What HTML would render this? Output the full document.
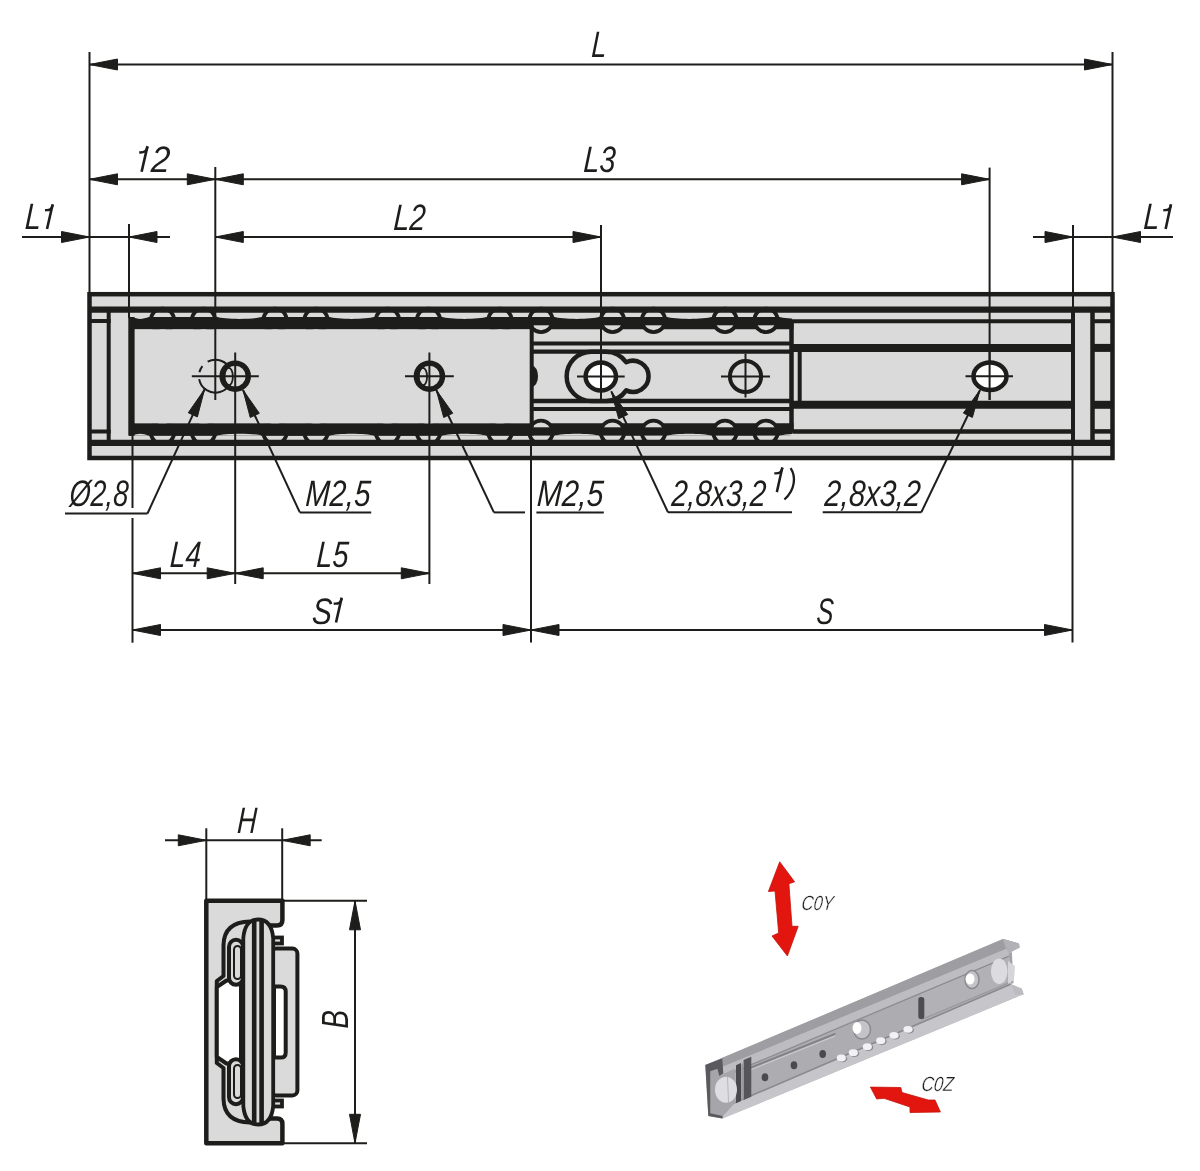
<!DOCTYPE html>
<html><head><meta charset="utf-8"><style>
html,body{margin:0;padding:0;background:#fff;overflow:hidden;}
svg{display:block;will-change:transform;}
text{font-family:"Liberation Sans",sans-serif;font-style:italic;fill:#1d1d1b;}
</style></head><body>
<svg width="1200" height="1171" viewBox="0 0 1200 1171">
<rect width="1200" height="1171" fill="#fff"/>
<line x1="89.5" y1="64.5" x2="1112.5" y2="64.5" stroke="#1d1d1b" stroke-width="2" stroke-linecap="butt"/>
<polygon points="89.50,64.50 117.50,59.00 117.50,70.00" fill="#1d1d1b" stroke="#1d1d1b" stroke-width="1" stroke-linejoin="round"/>
<polygon points="1112.50,64.50 1084.50,70.00 1084.50,59.00" fill="#1d1d1b" stroke="#1d1d1b" stroke-width="1" stroke-linejoin="round"/>
<line x1="89.5" y1="52" x2="89.5" y2="294" stroke="#1d1d1b" stroke-width="2" stroke-linecap="butt"/>
<line x1="1112.5" y1="52" x2="1112.5" y2="294" stroke="#1d1d1b" stroke-width="2" stroke-linecap="butt"/>
<text x="0" y="0" transform="translate(591,57) skewX(-3.2)" font-size="36.8" text-anchor="start" textLength="15" lengthAdjust="spacingAndGlyphs">L</text>
<line x1="89.5" y1="179.3" x2="989.6" y2="179.3" stroke="#1d1d1b" stroke-width="2" stroke-linecap="butt"/>
<polygon points="89.50,179.30 117.50,173.80 117.50,184.80" fill="#1d1d1b" stroke="#1d1d1b" stroke-width="1" stroke-linejoin="round"/>
<polygon points="215.30,179.30 187.30,184.80 187.30,173.80" fill="#1d1d1b" stroke="#1d1d1b" stroke-width="1" stroke-linejoin="round"/>
<polygon points="215.30,179.30 243.30,173.80 243.30,184.80" fill="#1d1d1b" stroke="#1d1d1b" stroke-width="1" stroke-linejoin="round"/>
<polygon points="989.60,179.30 961.60,184.80 961.60,173.80" fill="#1d1d1b" stroke="#1d1d1b" stroke-width="1" stroke-linejoin="round"/>
<line x1="215.3" y1="167" x2="215.3" y2="400" stroke="#1d1d1b" stroke-width="2" stroke-linecap="butt"/>
<line x1="989.6" y1="167.6" x2="989.6" y2="400" stroke="#1d1d1b" stroke-width="2" stroke-linecap="butt"/>
<text x="0" y="0" transform="translate(150.5,172) skewX(-3.2)" font-size="36.8" text-anchor="start" textLength="19" lengthAdjust="spacingAndGlyphs">2</text>
<path d="M147.2,147.4 L141.9,170.5" stroke="#1d1d1b" stroke-width="2.6" stroke-linecap="square" fill="none"/>
<path d="M139.2,152.5 C142.7,152.2 146.27599999999998,152.74800000000002 147.5,146.9" stroke="#1d1d1b" stroke-width="2.4699999999999998" fill="none"/>
<text x="0" y="0" transform="translate(583,172) skewX(-3.2)" font-size="36.8" text-anchor="start" textLength="32" lengthAdjust="spacingAndGlyphs">L3</text>
<line x1="22" y1="237" x2="170" y2="237" stroke="#1d1d1b" stroke-width="2" stroke-linecap="butt"/>
<polygon points="89.50,237.00 61.50,242.50 61.50,231.50" fill="#1d1d1b" stroke="#1d1d1b" stroke-width="1" stroke-linejoin="round"/>
<polygon points="129.00,237.00 157.00,231.50 157.00,242.50" fill="#1d1d1b" stroke="#1d1d1b" stroke-width="1" stroke-linejoin="round"/>
<line x1="129" y1="224" x2="129" y2="320" stroke="#1d1d1b" stroke-width="2" stroke-linecap="butt"/>
<text x="0" y="0" transform="translate(24.5,229) skewX(-3.2)" font-size="36.8" text-anchor="start" textLength="16" lengthAdjust="spacingAndGlyphs">L</text>
<path d="M52.4,205.5 L47.3,227.8" stroke="#1d1d1b" stroke-width="2.6" stroke-linecap="square" fill="none"/>
<path d="M45,210.2 C48.5,209.89999999999998 51.492,210.784 52.699999999999996,205.0" stroke="#1d1d1b" stroke-width="2.4699999999999998" fill="none"/>
<line x1="215.3" y1="237" x2="601" y2="237" stroke="#1d1d1b" stroke-width="2" stroke-linecap="butt"/>
<polygon points="215.30,237.00 243.30,231.50 243.30,242.50" fill="#1d1d1b" stroke="#1d1d1b" stroke-width="1" stroke-linejoin="round"/>
<polygon points="601.00,237.00 573.00,242.50 573.00,231.50" fill="#1d1d1b" stroke="#1d1d1b" stroke-width="1" stroke-linejoin="round"/>
<line x1="601" y1="225" x2="601" y2="400" stroke="#1d1d1b" stroke-width="2" stroke-linecap="butt"/>
<text x="0" y="0" transform="translate(393,230) skewX(-3.2)" font-size="36.8" text-anchor="start" textLength="32" lengthAdjust="spacingAndGlyphs">L2</text>
<line x1="1033" y1="237" x2="1173" y2="237" stroke="#1d1d1b" stroke-width="2" stroke-linecap="butt"/>
<polygon points="1073.00,237.00 1045.00,242.50 1045.00,231.50" fill="#1d1d1b" stroke="#1d1d1b" stroke-width="1" stroke-linejoin="round"/>
<polygon points="1112.50,237.00 1140.50,231.50 1140.50,242.50" fill="#1d1d1b" stroke="#1d1d1b" stroke-width="1" stroke-linejoin="round"/>
<line x1="1073" y1="225" x2="1073" y2="460" stroke="#1d1d1b" stroke-width="2" stroke-linecap="butt"/>
<text x="0" y="0" transform="translate(1143,229) skewX(-3.2)" font-size="36.8" text-anchor="start" textLength="16" lengthAdjust="spacingAndGlyphs">L</text>
<path d="M1170.7,205.5 L1165.9,227.8" stroke="#1d1d1b" stroke-width="2.6" stroke-linecap="square" fill="none"/>
<path d="M1163.3,210.2 C1166.8,209.89999999999998 1169.816,210.784 1171.0,205.0" stroke="#1d1d1b" stroke-width="2.4699999999999998" fill="none"/>
<rect x="89.5" y="294.2" width="1023" height="163.8" fill="#dadada"/>
<path d="M129,317 H788 Q793.5,317 793.5,322.5 V329.3 H129 Z" fill="#1d1d1b"/>
<path d="M129,435.6 H788 Q793.5,435.6 793.5,430.1 V423.3 H129 Z" fill="#1d1d1b"/>
<circle cx="162.5" cy="320.3" r="11.75" fill="#dadada" stroke="#1d1d1b" stroke-width="3.8"/>
<circle cx="162.5" cy="432.3" r="11.75" fill="#dadada" stroke="#1d1d1b" stroke-width="3.8"/>
<circle cx="203.5" cy="320.3" r="11.75" fill="#dadada" stroke="#1d1d1b" stroke-width="3.8"/>
<circle cx="203.5" cy="432.3" r="11.75" fill="#dadada" stroke="#1d1d1b" stroke-width="3.8"/>
<circle cx="275.0" cy="320.3" r="11.75" fill="#dadada" stroke="#1d1d1b" stroke-width="3.8"/>
<circle cx="275.0" cy="432.3" r="11.75" fill="#dadada" stroke="#1d1d1b" stroke-width="3.8"/>
<circle cx="316.0" cy="320.3" r="11.75" fill="#dadada" stroke="#1d1d1b" stroke-width="3.8"/>
<circle cx="316.0" cy="432.3" r="11.75" fill="#dadada" stroke="#1d1d1b" stroke-width="3.8"/>
<circle cx="387.5" cy="320.3" r="11.75" fill="#dadada" stroke="#1d1d1b" stroke-width="3.8"/>
<circle cx="387.5" cy="432.3" r="11.75" fill="#dadada" stroke="#1d1d1b" stroke-width="3.8"/>
<circle cx="428.5" cy="320.3" r="11.75" fill="#dadada" stroke="#1d1d1b" stroke-width="3.8"/>
<circle cx="428.5" cy="432.3" r="11.75" fill="#dadada" stroke="#1d1d1b" stroke-width="3.8"/>
<circle cx="500.0" cy="320.3" r="11.75" fill="#dadada" stroke="#1d1d1b" stroke-width="3.8"/>
<circle cx="500.0" cy="432.3" r="11.75" fill="#dadada" stroke="#1d1d1b" stroke-width="3.8"/>
<circle cx="541.0" cy="320.3" r="11.75" fill="#dadada" stroke="#1d1d1b" stroke-width="3.8"/>
<circle cx="541.0" cy="432.3" r="11.75" fill="#dadada" stroke="#1d1d1b" stroke-width="3.8"/>
<circle cx="612.5" cy="320.3" r="11.75" fill="#dadada" stroke="#1d1d1b" stroke-width="3.8"/>
<circle cx="612.5" cy="432.3" r="11.75" fill="#dadada" stroke="#1d1d1b" stroke-width="3.8"/>
<circle cx="653.5" cy="320.3" r="11.75" fill="#dadada" stroke="#1d1d1b" stroke-width="3.8"/>
<circle cx="653.5" cy="432.3" r="11.75" fill="#dadada" stroke="#1d1d1b" stroke-width="3.8"/>
<circle cx="725.0" cy="320.3" r="11.75" fill="#dadada" stroke="#1d1d1b" stroke-width="3.8"/>
<circle cx="725.0" cy="432.3" r="11.75" fill="#dadada" stroke="#1d1d1b" stroke-width="3.8"/>
<circle cx="766.0" cy="320.3" r="11.75" fill="#dadada" stroke="#1d1d1b" stroke-width="3.8"/>
<circle cx="766.0" cy="432.3" r="11.75" fill="#dadada" stroke="#1d1d1b" stroke-width="3.8"/>
<rect x="129" y="317" width="662" height="8.3" fill="#1d1d1b"/>
<rect x="129" y="427.3" width="662" height="8.3" fill="#1d1d1b"/>
<rect x="129" y="317" width="402" height="12.3" fill="#1d1d1b"/>
<rect x="129" y="423.3" width="402" height="12.3" fill="#1d1d1b"/>
<rect x="134.6" y="329.3" width="395.1" height="94" fill="#dadada"/>
<path d="M131,316.8 C139,319.6 141.5,319.6 149.5,316.8 Z" fill="#dadada"/>
<path d="M131,435.8 C139,433 141.5,433 149.5,435.8 Z" fill="#dadada"/>
<path d="M216.5,316.8 C224.5,319.6 254.0,319.6 262.0,316.8 Z" fill="#dadada"/>
<path d="M216.5,435.8 C224.5,433 254.0,433 262.0,435.8 Z" fill="#dadada"/>
<path d="M329.0,316.8 C337.0,319.6 366.5,319.6 374.5,316.8 Z" fill="#dadada"/>
<path d="M329.0,435.8 C337.0,433 366.5,433 374.5,435.8 Z" fill="#dadada"/>
<path d="M441.5,316.8 C449.5,319.6 479.0,319.6 487.0,316.8 Z" fill="#dadada"/>
<path d="M441.5,435.8 C449.5,433 479.0,433 487.0,435.8 Z" fill="#dadada"/>
<path d="M554.0,316.8 C562.0,319.6 591.5,319.6 599.5,316.8 Z" fill="#dadada"/>
<path d="M554.0,435.8 C562.0,433 591.5,433 599.5,435.8 Z" fill="#dadada"/>
<path d="M666.5,316.8 C674.5,319.6 704.0,319.6 712.0,316.8 Z" fill="#dadada"/>
<path d="M666.5,435.8 C674.5,433 704.0,433 712.0,435.8 Z" fill="#dadada"/>
<path d="M779.0,316.8 C787.0,319.6 816.5,319.6 824.5,316.8 Z" fill="#dadada"/>
<path d="M779.0,435.8 C787.0,433 816.5,433 824.5,435.8 Z" fill="#dadada"/>
<rect x="89.5" y="294.2" width="1023" height="163.8" fill="none" stroke="#1d1d1b" stroke-width="4.5"/>
<line x1="89.5" y1="309.6" x2="1112.5" y2="309.6" stroke="#1d1d1b" stroke-width="6.2" stroke-linecap="butt"/>
<line x1="89.5" y1="442.8" x2="1112.5" y2="442.8" stroke="#1d1d1b" stroke-width="6.2" stroke-linecap="butt"/>
<line x1="108.7" y1="309.8" x2="108.7" y2="442.6" stroke="#1d1d1b" stroke-width="4" stroke-linecap="butt"/>
<line x1="89.5" y1="321" x2="110.7" y2="321" stroke="#1d1d1b" stroke-width="4" stroke-linecap="butt"/>
<line x1="89.5" y1="431.5" x2="110.7" y2="431.5" stroke="#1d1d1b" stroke-width="4" stroke-linecap="butt"/>
<line x1="129" y1="294" x2="129" y2="318" stroke="#1d1d1b" stroke-width="2" stroke-linecap="butt"/>
<rect x="128.3" y="317" width="6.3" height="118.6" fill="#1d1d1b"/>
<line x1="531.7" y1="317" x2="531.7" y2="435.6" stroke="#1d1d1b" stroke-width="4" stroke-linecap="butt"/>
<path d="M531,365 Q538,367 538,376.3 Q538,385.6 531,387.6 Z" fill="#1d1d1b"/>
<line x1="531.7" y1="343.6" x2="791.5" y2="343.6" stroke="#1d1d1b" stroke-width="4" stroke-linecap="butt"/>
<line x1="531.7" y1="351.6" x2="791.5" y2="351.6" stroke="#1d1d1b" stroke-width="4.4" stroke-linecap="butt"/>
<line x1="531.7" y1="401.0" x2="791.5" y2="401.0" stroke="#1d1d1b" stroke-width="4.4" stroke-linecap="butt"/>
<line x1="531.7" y1="409.0" x2="791.5" y2="409.0" stroke="#1d1d1b" stroke-width="4" stroke-linecap="butt"/>
<line x1="791.5" y1="322" x2="791.5" y2="430.6" stroke="#1d1d1b" stroke-width="4.5" stroke-linecap="butt"/>
<line x1="793" y1="321.2" x2="1073" y2="321.2" stroke="#1d1d1b" stroke-width="4" stroke-linecap="butt"/>
<line x1="793" y1="431.4" x2="1073" y2="431.4" stroke="#1d1d1b" stroke-width="4.5" stroke-linecap="butt"/>
<line x1="793" y1="347.9" x2="1073" y2="347.9" stroke="#1d1d1b" stroke-width="8" stroke-linecap="butt"/>
<line x1="793" y1="404.8" x2="1073" y2="404.8" stroke="#1d1d1b" stroke-width="8" stroke-linecap="butt"/>
<line x1="799.7" y1="350" x2="799.7" y2="403" stroke="#1d1d1b" stroke-width="4" stroke-linecap="butt"/>
<line x1="1092.5" y1="321.2" x2="1112.5" y2="321.2" stroke="#1d1d1b" stroke-width="4" stroke-linecap="butt"/>
<line x1="1092.5" y1="431.4" x2="1112.5" y2="431.4" stroke="#1d1d1b" stroke-width="4.5" stroke-linecap="butt"/>
<line x1="1092.5" y1="347.9" x2="1112.5" y2="347.9" stroke="#1d1d1b" stroke-width="8" stroke-linecap="butt"/>
<line x1="1092.5" y1="404.8" x2="1112.5" y2="404.8" stroke="#1d1d1b" stroke-width="8" stroke-linecap="butt"/>
<line x1="1073" y1="309.8" x2="1073" y2="442.6" stroke="#1d1d1b" stroke-width="4" stroke-linecap="butt"/>
<line x1="1092.5" y1="309.8" x2="1092.5" y2="442.6" stroke="#1d1d1b" stroke-width="4.5" stroke-linecap="butt"/>
<line x1="215.3" y1="294" x2="215.3" y2="400" stroke="#1d1d1b" stroke-width="2" stroke-linecap="butt"/>
<line x1="601" y1="294" x2="601" y2="400" stroke="#1d1d1b" stroke-width="2" stroke-linecap="butt"/>
<line x1="989.6" y1="294" x2="989.6" y2="400" stroke="#1d1d1b" stroke-width="2" stroke-linecap="butt"/>
<line x1="129" y1="294" x2="129" y2="318" stroke="#1d1d1b" stroke-width="2" stroke-linecap="butt"/>
<line x1="1073" y1="294" x2="1073" y2="312" stroke="#1d1d1b" stroke-width="2" stroke-linecap="butt"/>
<path d="M207.65,361.63 A16.5,16.5 0 1 1 199.15,379.07 M199.39,372.21 A16.5,16.5 0 0 1 202.40,366.04" fill="none" stroke="#1d1d1b" stroke-width="2"/>
<circle cx="235.2" cy="376.2" r="13.1" fill="#dadada" stroke="#1d1d1b" stroke-width="5.4"/>
<ellipse cx="228.7" cy="376.6" rx="4.2" ry="8.8" fill="none" stroke="#1d1d1b" stroke-width="1.8"/>
<circle cx="429.4" cy="376.2" r="13.1" fill="#dadada" stroke="#1d1d1b" stroke-width="5.4"/>
<ellipse cx="422.9" cy="376.6" rx="4.2" ry="8.8" fill="none" stroke="#1d1d1b" stroke-width="1.8"/>
<line x1="191.8" y1="376.2" x2="258.8" y2="376.2" stroke="#1d1d1b" stroke-width="2" stroke-linecap="butt"/>
<line x1="235.2" y1="352.5" x2="235.2" y2="584" stroke="#1d1d1b" stroke-width="2" stroke-linecap="butt"/>
<line x1="405" y1="376.2" x2="453.8" y2="376.2" stroke="#1d1d1b" stroke-width="2" stroke-linecap="butt"/>
<line x1="429.4" y1="352.5" x2="429.4" y2="584" stroke="#1d1d1b" stroke-width="2" stroke-linecap="butt"/>
<path d="M591.3,351.7 H606 A24.65,24.65 0 0 1 626.2,362.3 A15.6,15.6 0 1 1 626.2,390.4 A24.65,24.65 0 0 1 606,401 H591.3 A24.65,24.65 0 0 1 591.3,351.7 Z" fill="#dadada" stroke="#1d1d1b" stroke-width="4.5" stroke-linejoin="round"/>
<ellipse cx="600.8" cy="376.5" rx="15.2" ry="14" fill="#fff" stroke="#1d1d1b" stroke-width="4.5"/>
<line x1="577" y1="376.5" x2="624.7" y2="376.5" stroke="#1d1d1b" stroke-width="2" stroke-linecap="butt"/>
<line x1="601" y1="344" x2="601" y2="400" stroke="#1d1d1b" stroke-width="2" stroke-linecap="butt"/>
<circle cx="745.5" cy="376.5" r="15.6" fill="#dadada" stroke="#1d1d1b" stroke-width="4"/>
<line x1="721" y1="376.5" x2="770" y2="376.5" stroke="#1d1d1b" stroke-width="2" stroke-linecap="butt"/>
<line x1="745.5" y1="353.7" x2="745.5" y2="397.5" stroke="#1d1d1b" stroke-width="2" stroke-linecap="butt"/>
<ellipse cx="990" cy="376.3" rx="16.5" ry="13.8" fill="#fff" stroke="#1d1d1b" stroke-width="4.5"/>
<line x1="965.5" y1="376.3" x2="1013" y2="376.3" stroke="#1d1d1b" stroke-width="2" stroke-linecap="butt"/>
<line x1="989.6" y1="344" x2="989.6" y2="400" stroke="#1d1d1b" stroke-width="2" stroke-linecap="butt"/>
<line x1="147.5" y1="513.5" x2="204.5" y2="389.4" stroke="#1d1d1b" stroke-width="2" stroke-linecap="butt"/>
<polygon points="204.50,389.40 197.36,416.93 188.27,412.76" fill="#1d1d1b" stroke="#1d1d1b" stroke-width="1" stroke-linejoin="round"/>
<line x1="65" y1="513.5" x2="147.5" y2="513.5" stroke="#1d1d1b" stroke-width="2" stroke-linecap="butt"/>
<line x1="299.8" y1="512.4" x2="243" y2="390" stroke="#1d1d1b" stroke-width="2" stroke-linecap="butt"/>
<polygon points="243.00,390.00 259.32,413.29 250.25,417.50" fill="#1d1d1b" stroke="#1d1d1b" stroke-width="1" stroke-linejoin="round"/>
<line x1="299.8" y1="512.4" x2="371.2" y2="512.4" stroke="#1d1d1b" stroke-width="2" stroke-linecap="butt"/>
<line x1="493.9" y1="512.4" x2="436.3" y2="390" stroke="#1d1d1b" stroke-width="2" stroke-linecap="butt"/>
<polygon points="436.30,390.00 452.75,413.21 443.70,417.46" fill="#1d1d1b" stroke="#1d1d1b" stroke-width="1" stroke-linejoin="round"/>
<line x1="493.9" y1="512.4" x2="525" y2="512.4" stroke="#1d1d1b" stroke-width="2" stroke-linecap="butt"/>
<line x1="536.4" y1="512.4" x2="603.8" y2="512.4" stroke="#1d1d1b" stroke-width="2" stroke-linecap="butt"/>
<line x1="668" y1="512.3" x2="611.3" y2="391.3" stroke="#1d1d1b" stroke-width="2" stroke-linecap="butt"/>
<polygon points="611.30,391.30 627.71,414.53 618.65,418.78" fill="#1d1d1b" stroke="#1d1d1b" stroke-width="1" stroke-linejoin="round"/>
<line x1="668" y1="512.3" x2="792" y2="512.3" stroke="#1d1d1b" stroke-width="2" stroke-linecap="butt"/>
<line x1="921.3" y1="512.3" x2="980" y2="390" stroke="#1d1d1b" stroke-width="2" stroke-linecap="butt"/>
<polygon points="980.00,390.00 972.39,417.41 963.38,413.08" fill="#1d1d1b" stroke="#1d1d1b" stroke-width="1" stroke-linejoin="round"/>
<line x1="822.7" y1="512.3" x2="921.3" y2="512.3" stroke="#1d1d1b" stroke-width="2" stroke-linecap="butt"/>
<text x="0" y="0" transform="translate(69,506) skewX(-3.2)" font-size="36.8" text-anchor="start" textLength="59" lengthAdjust="spacingAndGlyphs">Ø2,8</text>
<text x="0" y="0" transform="translate(305,505.5) skewX(-3.2)" font-size="36.8" text-anchor="start" textLength="65" lengthAdjust="spacingAndGlyphs">M2,5</text>
<text x="0" y="0" transform="translate(536.5,505.5) skewX(-3.2)" font-size="36.8" text-anchor="start" textLength="66.5" lengthAdjust="spacingAndGlyphs">M2,5</text>
<text x="0" y="0" transform="translate(671,505.5) skewX(-3.2)" font-size="36.8" text-anchor="start" textLength="94.5" lengthAdjust="spacingAndGlyphs">2,8x3,2</text>
<path d="M782.1,468.6 L777.1,490.9" stroke="#1d1d1b" stroke-width="2.5" stroke-linecap="square" fill="none"/>
<path d="M774.3,473.4 C777.8,473.09999999999997 781.2,473.884 782.4,468.1" stroke="#1d1d1b" stroke-width="2.375" fill="none"/>
<path d="M790.6,468.1 C796,476 795.5,490 784.4,499.5" stroke="#1d1d1b" stroke-width="2.3" fill="none"/>
<text x="0" y="0" transform="translate(824,505.5) skewX(-3.2)" font-size="36.8" text-anchor="start" textLength="96" lengthAdjust="spacingAndGlyphs">2,8x3,2</text>
<line x1="132.5" y1="435" x2="132.5" y2="508" stroke="#1d1d1b" stroke-width="2" stroke-linecap="butt"/>
<line x1="132.5" y1="518" x2="132.5" y2="642.7" stroke="#1d1d1b" stroke-width="2" stroke-linecap="butt"/>
<line x1="531" y1="435" x2="531" y2="642.5" stroke="#1d1d1b" stroke-width="2" stroke-linecap="butt"/>
<line x1="132.5" y1="573.3" x2="429.3" y2="573.3" stroke="#1d1d1b" stroke-width="2" stroke-linecap="butt"/>
<polygon points="132.50,573.30 160.50,567.80 160.50,578.80" fill="#1d1d1b" stroke="#1d1d1b" stroke-width="1" stroke-linejoin="round"/>
<polygon points="235.20,573.30 207.20,578.80 207.20,567.80" fill="#1d1d1b" stroke="#1d1d1b" stroke-width="1" stroke-linejoin="round"/>
<polygon points="235.20,573.30 263.20,567.80 263.20,578.80" fill="#1d1d1b" stroke="#1d1d1b" stroke-width="1" stroke-linejoin="round"/>
<polygon points="429.30,573.30 401.30,578.80 401.30,567.80" fill="#1d1d1b" stroke="#1d1d1b" stroke-width="1" stroke-linejoin="round"/>
<text x="0" y="0" transform="translate(169.5,566.7) skewX(-3.2)" font-size="36.8" text-anchor="start" textLength="31" lengthAdjust="spacingAndGlyphs">L4</text>
<text x="0" y="0" transform="translate(316,566.7) skewX(-3.2)" font-size="36.8" text-anchor="start" textLength="32" lengthAdjust="spacingAndGlyphs">L5</text>
<line x1="132.5" y1="630" x2="1072.5" y2="630" stroke="#1d1d1b" stroke-width="2" stroke-linecap="butt"/>
<polygon points="132.50,630.00 160.50,624.50 160.50,635.50" fill="#1d1d1b" stroke="#1d1d1b" stroke-width="1" stroke-linejoin="round"/>
<polygon points="531.00,630.00 503.00,635.50 503.00,624.50" fill="#1d1d1b" stroke="#1d1d1b" stroke-width="1" stroke-linejoin="round"/>
<polygon points="531.00,630.00 559.00,624.50 559.00,635.50" fill="#1d1d1b" stroke="#1d1d1b" stroke-width="1" stroke-linejoin="round"/>
<polygon points="1072.50,630.00 1044.50,635.50 1044.50,624.50" fill="#1d1d1b" stroke="#1d1d1b" stroke-width="1" stroke-linejoin="round"/>
<line x1="1072.5" y1="442" x2="1072.5" y2="642.5" stroke="#1d1d1b" stroke-width="2" stroke-linecap="butt"/>
<text x="0" y="0" transform="translate(311.5,623.5) skewX(-3.2)" font-size="36.8" text-anchor="start" textLength="20" lengthAdjust="spacingAndGlyphs">S</text>
<path d="M341.4,598.9 L336.3,621.2" stroke="#1d1d1b" stroke-width="2.6" stroke-linecap="square" fill="none"/>
<path d="M333.7,603.7 C337.2,603.4000000000001 340.49199999999996,604.184 341.7,598.4" stroke="#1d1d1b" stroke-width="2.4699999999999998" fill="none"/>
<text x="0" y="0" transform="translate(816,623.5) skewX(-3.2)" font-size="36.8" text-anchor="start" textLength="17" lengthAdjust="spacingAndGlyphs">S</text>
<line x1="165" y1="840.3" x2="321.7" y2="840.3" stroke="#1d1d1b" stroke-width="2" stroke-linecap="butt"/>
<polygon points="206.30,840.30 178.30,845.80 178.30,834.80" fill="#1d1d1b" stroke="#1d1d1b" stroke-width="1" stroke-linejoin="round"/>
<polygon points="282.20,840.30 310.20,834.80 310.20,845.80" fill="#1d1d1b" stroke="#1d1d1b" stroke-width="1" stroke-linejoin="round"/>
<line x1="206.3" y1="828.3" x2="206.3" y2="900" stroke="#1d1d1b" stroke-width="2" stroke-linecap="butt"/>
<line x1="282.2" y1="828.3" x2="282.2" y2="900" stroke="#1d1d1b" stroke-width="2" stroke-linecap="butt"/>
<text x="0" y="0" transform="translate(236.7,832.5) skewX(-3.2)" font-size="36.8" text-anchor="start" textLength="19.5" lengthAdjust="spacingAndGlyphs">H</text>
<line x1="283" y1="900.8" x2="367" y2="900.8" stroke="#1d1d1b" stroke-width="2" stroke-linecap="butt"/>
<line x1="283" y1="1143.3" x2="367" y2="1143.3" stroke="#1d1d1b" stroke-width="2" stroke-linecap="butt"/>
<line x1="355" y1="900.8" x2="355" y2="1143.3" stroke="#1d1d1b" stroke-width="2" stroke-linecap="butt"/>
<polygon points="355.00,900.80 360.50,929.80 349.50,929.80" fill="#1d1d1b" stroke="#1d1d1b" stroke-width="1" stroke-linejoin="round"/>
<polygon points="355.00,1143.30 349.50,1114.30 360.50,1114.30" fill="#1d1d1b" stroke="#1d1d1b" stroke-width="1" stroke-linejoin="round"/>
<text x="0" y="0" font-size="36" transform="translate(348.3,1028.5) rotate(-90)" textLength="18.5" lengthAdjust="spacingAndGlyphs">B</text>
<path d="M206.3,900.8 H282.4 V920 Q282.4,925.5 277,925.5 H268 V1118.6 H277 Q282.4,1118.6 282.4,1124 V1143.3 H206.3 Z" fill="#dadada" stroke="#1d1d1b" stroke-width="4.5" stroke-linejoin="round"/>
<path d="M250,921.5 Q224,922 223.5,945 V976 L216.8,981 V1063 L223.5,1068 V1099 Q224,1122 250,1122.5" fill="#dadada" stroke="#1d1d1b" stroke-width="4" stroke-linejoin="round"/>
<path d="M216.8,987 L226.5,980.5 H241 V1063.5 H226.5 L216.8,1057 Z" fill="#fff" stroke="#1d1d1b" stroke-width="4" stroke-linejoin="round"/>
<rect x="229" y="939.8" width="14" height="45" rx="7" fill="#dadada" stroke="#1d1d1b" stroke-width="4"/>
<rect x="229" y="1059.2" width="14" height="45" rx="7" fill="#dadada" stroke="#1d1d1b" stroke-width="4"/>
<rect x="234" y="946" width="7" height="33" rx="3.5" fill="none" stroke="#1d1d1b" stroke-width="2"/>
<rect x="234" y="1065" width="7" height="33" rx="3.5" fill="none" stroke="#1d1d1b" stroke-width="2"/>
<rect x="271" y="948.6" width="26.4" height="146.8" rx="5" fill="#dadada" stroke="#1d1d1b" stroke-width="4"/>
<path d="M274,986.4 H280.5 Q285.7,986.4 285.7,991.6 V1052.4 Q285.7,1057.6 280.5,1057.6 H274 Z" fill="#fff" stroke="#1d1d1b" stroke-width="4"/>
<rect x="273" y="937.5" width="9" height="6" fill="#dadada" stroke="#1d1d1b" stroke-width="3.8"/>
<rect x="273" y="1100.5" width="9" height="6" fill="#dadada" stroke="#1d1d1b" stroke-width="3.8"/>
<path d="M243.3,938 Q245,919.5 258,919.5 Q271.5,919.5 273.2,938 V1106 Q271.5,1124.5 258,1124.5 Q245,1124.5 243.3,1106 Z" fill="#dadada" stroke="#1d1d1b" stroke-width="3.8"/>
<line x1="254.2" y1="921" x2="254.2" y2="1123" stroke="#1d1d1b" stroke-width="4.6" stroke-linecap="butt"/>
<line x1="261.6" y1="921" x2="261.6" y2="1123" stroke="#1d1d1b" stroke-width="4.6" stroke-linecap="butt"/>
<polygon points="779.7,861.8 794.6,881.8 788.9,883.8 792,926.3 798.2,926.3 787.4,956 772,936 778.7,933 775,891 768.4,891.5" fill="#e2150f" stroke="#c4140e" stroke-width="0.8" stroke-linejoin="round"/>
<polygon points="870.4,1087.1 900.8,1087.5 902,1092.5 928.3,1100 935,1100 940.4,1112 910,1112.5 910,1107 884,1098.3 876.7,1099" fill="#e2150f" stroke="#c4140e" stroke-width="0.8" stroke-linejoin="round"/>
<text x="0" y="0" transform="translate(801,909.5) skewX(-6)" font-size="20.5" textLength="32" lengthAdjust="spacingAndGlyphs" stroke="#fff" stroke-width="0.3">C0Y</text>
<text x="0" y="0" transform="translate(921,1090.5) skewX(-6)" font-size="20.5" textLength="32" lengthAdjust="spacingAndGlyphs" stroke="#fff" stroke-width="0.3">C0Z</text>
<g transform="matrix(1,-0.42,0,1,705.3,1065.1)">
<polygon points="0,0 297.7,-1 313.7,10.3 314.4,14.4 305.5,47.2 316.4,56.3 318.3,62.8 17.1,60.7 3,52.2" fill="#b6b6ba"/>
<polygon points="0,0 297.7,-1 313.7,10.3 6,9" fill="#9e9ea2"/>
<polygon points="6,9 313.7,10.3 303.5,18.6 8,19" fill="#bdbdc1"/>
<polygon points="8,18.2 303.5,17.8 303.5,19.6 8,20" fill="#8e8e92"/>
<rect x="42" y="19.6" width="262" height="30.4" fill="#adadb1"/>
<polygon points="42,20.5 130,22.3 130,24.5 42,22.7" fill="#838387"/>
<polygon points="42,23 130,24.8 130,26 42,24.2" fill="#cacace"/>
<rect x="216" y="19.6" width="88" height="30.4" fill="#b2b2b6"/>
<rect x="216" y="44.5" width="88" height="1.5" fill="#9a9a9e"/>
<polygon points="8,50 305.5,47.2 316.4,56.3 318.3,62.8 17.1,60.7 8,53" fill="#c6c6ca"/>
<polygon points="8,49.3 305.5,46.5 305.5,48.3 8,51.1" fill="#8a8a8e"/>
<polygon points="5,8 12,8.5 14,16.5 30,16 30,50 17.5,58.5 5,50.5" fill="#a6a6aa"/>
<polygon points="0,0 17,0.5 18,16 14,16.8 12,8.8 5,8.3 5,50.3 17.5,58.3 17.1,60.7 3,52.2" fill="#5a5a5e"/>
<rect x="30.7" y="13" width="5" height="38" fill="#4a4a4e"/>
<rect x="38.3" y="11" width="7.7" height="40" fill="#56565a"/>
<rect x="36" y="14" width="2.2" height="36" fill="#9a9a9e"/>
<polygon points="303.5,15.6 314.4,14.4 320,14 320,56 316.4,56.3 305.5,47.2" fill="#ffffff"/>
<polygon points="303.5,15.6 306.5,15.4 308.3,47.4 305.5,47.2" fill="#a2a2a6"/>
<polygon points="297.7,-1 313.7,10.3 314.4,14.4 303.5,15.6 300,8" fill="#b2b2b6"/>
<polygon points="305.5,47.2 316.4,56.3 318.3,62.8 310,60" fill="#bcbcc0"/>
</g>
<ellipse cx="726" cy="1089.7" rx="11" ry="13" fill="#dedee2"/>
<path d="M727.5,1077 L728.5,1102" stroke="#b8b8bc" stroke-width="1"/>
<ellipse cx="999.2" cy="971.2" rx="8.3" ry="12.8" fill="#dcdce0"/>
<polygon points="1008,961 1015,966 1014,980 1008,984" fill="#d6d6da"/>
<ellipse cx="765" cy="1077.3" rx="3.3" ry="4" fill="#4a4a4e"/>
<ellipse cx="794" cy="1065.3" rx="3.3" ry="4" fill="#4a4a4e"/>
<ellipse cx="822.7" cy="1054" rx="3.3" ry="4" fill="#4a4a4e"/>
<ellipse cx="862" cy="1029.5" rx="8.5" ry="9.5" fill="#c4c4c8" stroke="#8a8a8e" stroke-width="1.5"/>
<ellipse cx="857" cy="1028" rx="4.5" ry="6" fill="#ffffff"/>
<ellipse cx="972" cy="979.6" rx="7" ry="9" fill="#c4c4c8" stroke="#8a8a8e" stroke-width="1.5"/>
<ellipse cx="970" cy="979" rx="4.5" ry="5.5" fill="#ffffff"/>
<rect x="918.3" y="997" width="6" height="22" rx="2.5" fill="#4e4e52"/>
<ellipse cx="842.5" cy="1058.8" rx="4.8" ry="3.4" fill="#8e8e92"/>
<ellipse cx="841.3" cy="1058" rx="4.6" ry="3.4" fill="#f2f2f4"/>
<ellipse cx="854.5" cy="1053.5" rx="4.8" ry="3.4" fill="#8e8e92"/>
<ellipse cx="853.3" cy="1052.7" rx="4.6" ry="3.4" fill="#f2f2f4"/>
<ellipse cx="868.5" cy="1047.5" rx="4.8" ry="3.4" fill="#8e8e92"/>
<ellipse cx="867.3" cy="1046.7" rx="4.6" ry="3.4" fill="#f2f2f4"/>
<ellipse cx="881.9000000000001" cy="1041.5" rx="4.8" ry="3.4" fill="#8e8e92"/>
<ellipse cx="880.7" cy="1040.7" rx="4.6" ry="3.4" fill="#f2f2f4"/>
<ellipse cx="895.2" cy="1036.1" rx="4.8" ry="3.4" fill="#8e8e92"/>
<ellipse cx="894" cy="1035.3" rx="4.6" ry="3.4" fill="#f2f2f4"/>
<ellipse cx="909.2" cy="1030.1" rx="4.8" ry="3.4" fill="#8e8e92"/>
<ellipse cx="908" cy="1029.3" rx="4.6" ry="3.4" fill="#f2f2f4"/>
</svg></body></html>
